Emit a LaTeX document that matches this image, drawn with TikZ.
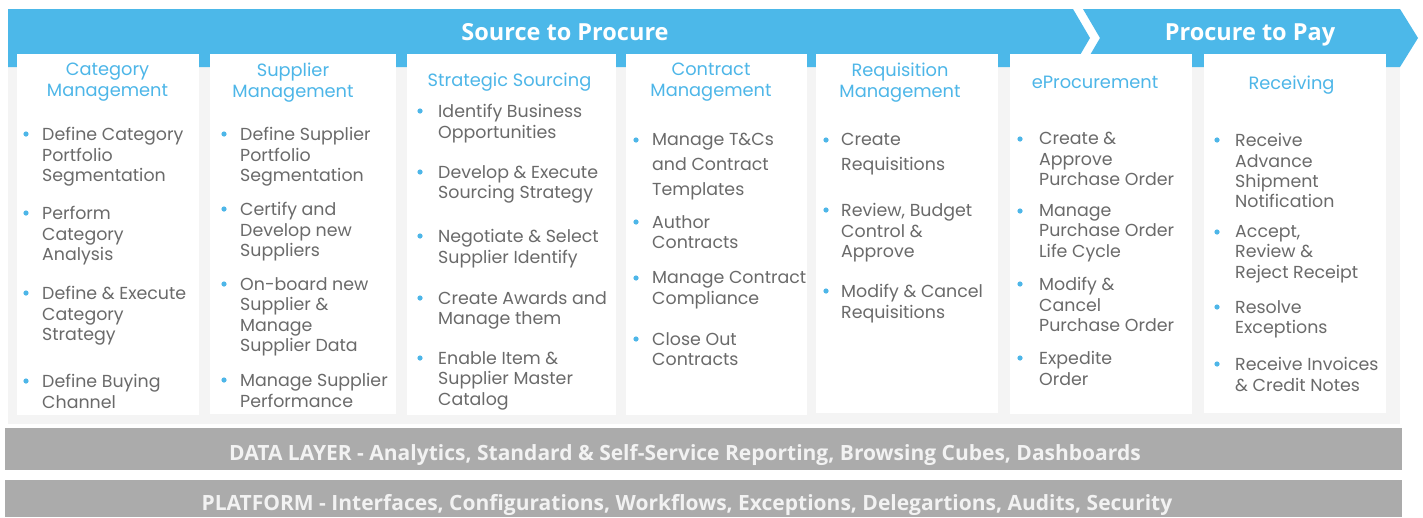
\documentclass[tikz,border=0pt]{standalone}
\usepackage{fontspec}
\setmainfont{Poppins}
\newfontfamily\osfont{Open Sans}
\definecolor{bandblue}{HTML}{4CB8E9}
\definecolor{titleblue}{HTML}{4DB6E8}
\definecolor{bodygray}{HTML}{6A6A6A}
\definecolor{bargray}{HTML}{ABABAB}
\definecolor{bartext}{HTML}{F2F2F2}
\definecolor{shadegray}{HTML}{F4F4F4}
\newcommand\bdyfont{\fontsize{17.4}{20.3}\selectfont}
\newcommand\ttlfont{\fontsize{17.8}{20.5}\selectfont}
\newcommand\bndfont{\osfont\bfseries\fontsize{23.5}{26}\selectfont}
\newcommand\brfont{\osfont\bfseries\fontsize{21}{22}\selectfont}
\newcommand\bitem[5]{%
  \fill[bulletdot] (#2,#4) circle (2.6);
  \node[itemtext] (#1) at (#3,#4-6.6) {#5};}
\begin{document}
\begin{tikzpicture}[x=1pt,y=-1pt,
  bandshape/.style={fill=bandblue, draw=none},
  colbox/.style={fill=white, draw=none},
  coltitle/.style={text=titleblue, font=\ttlfont, align=center, inner sep=0pt, anchor=north},
  itemtext/.style={text=bodygray, font=\bdyfont, align=left, inner sep=0pt, anchor=north west},
  bulletdot/.style={fill=titleblue},
  layerbar/.style={fill=bargray, draw=none},
  layertext/.style={text=bartext, font=\brfont, inner sep=0pt, anchor=base},
  bandtext/.style={text=white, font=\bndfont, inner sep=0pt, anchor=base}]
\useasboundingbox (0,0) rectangle (1423,517);
\fill[white] (0,0) rectangle (1423,517);
% shaded background behind columns
\fill[shadegray] (8,60) rectangle (1400,424);
% banner
\fill[bandshape] (8,9) -- (1073,9) -- (1090,38) -- (1073,67) -- (8,67) -- cycle;
\fill[bandshape] (1083,9) -- (1400,9) -- (1418,38) -- (1400,67) -- (1083,67) -- (1100,38) -- cycle;
\node[bandtext] (s2p) at (565,40) {Source to Procure};
\node[bandtext] (p2p) at (1250,40) {Procure to Pay};
% column boxes
\fill[colbox] (17,54) rectangle (199,415);
\fill[colbox] (210,54) rectangle (396,414);
\fill[colbox] (407,54) rectangle (616,415);
\fill[colbox] (626,54) rectangle (807,415);
\fill[colbox] (816,54) rectangle (998,413);
\fill[colbox] (1010,54) rectangle (1192,414);
\fill[colbox] (1204,54) rectangle (1386,413);
% titles
\node[coltitle] (t1) at (107.5,63) {Category\\Management};
\node[coltitle] (t2) at (293,63) {Supplier\\Management};
\node[coltitle] (t3) at (509.5,73) {Strategic Sourcing};
\node[coltitle] (t4) at (711,63) {Contract\\Management};
\node[coltitle] (t5) at (900,63) {Requisition\\Management};
\node[coltitle] (t6) at (1095,76) {eProcurement};
\node[coltitle] (t7) at (1291.5,76) {Receiving};
% column 1
\bitem{a1}{26}{42}{134}{Define Category\\Portfolio\\Segmentation}
\bitem{a2}{26}{42}{213}{Perform\\Category\\Analysis}
\bitem{a3}{26}{42}{293}{Define \& Execute\\Category\\Strategy}
\bitem{a4}{26}{42}{381}{Define Buying\\Channel}
% column 2
\bitem{b1}{224}{240}{134}{Define Supplier\\Portfolio\\Segmentation}
\bitem{b2}{224}{240}{209}{Certify and\\Develop new\\Suppliers}
\bitem{b3}{224}{240}{284}{On-board new\\Supplier \&\\Manage\\Supplier Data}
\bitem{b4}{224}{240}{380}{Manage Supplier\\Performance}
% column 3
\bitem{c1}{420}{438}{111}{Identify Business\\Opportunities}
\bitem{c2}{420}{438}{172}{Develop \& Execute\\Sourcing Strategy}
\bitem{c3}{420}{438}{236}{Negotiate \& Select\\Supplier Identify}
\bitem{c4}{420}{438}{298}{Create Awards and\\Manage them}
\bitem{c5}{420}{438}{358}{Enable Item \&\\Supplier Master\\Catalog}
% column 4
\bitem{d1}{636}{652}{140}{Manage T\&Cs\\[4.7pt]and Contract\\[4.7pt]Templates}
\bitem{d2}{636}{652}{222}{Author\\Contracts}
\bitem{d3}{636}{652}{278}{Manage Contract\\Compliance}
\bitem{d4}{636}{652}{339}{Close Out\\Contracts}
% column 5
\bitem{e1}{826}{841}{140}{Create\\[4.7pt]Requisitions}
\bitem{e2}{826}{841}{210}{Review, Budget\\Control \&\\Approve}
\bitem{e3}{826}{841}{291}{Modify \& Cancel\\Requisitions}
% column 6
\bitem{f1}{1020}{1039}{139}{Create \&\\Approve\\Purchase Order}
\bitem{f2}{1020}{1039}{211}{Manage\\Purchase Order\\Life Cycle}
\bitem{f3}{1020}{1039}{284}{Modify \&\\Cancel\\Purchase Order}
\bitem{f4}{1020}{1039}{358}{Expedite\\Order}
% column 7
\bitem{g1}{1217}{1235}{140}{Receive\\Advance\\Shipment\\Notification}
\bitem{g2}{1217}{1235}{232}{Accept,\\Review \&\\Reject Receipt}
\bitem{g3}{1217}{1235}{307}{Resolve\\Exceptions}
\bitem{g4}{1217}{1235}{364}{Receive Invoices\\\& Credit Notes}
% bottom layers
\fill[layerbar] (5,428) rectangle (1402,470);
\fill[layerbar] (5,480) rectangle (1402,517);
\node[layertext] (dl) at (685,460) {DATA LAYER - Analytics, Standard \& Self-Service Reporting, Browsing Cubes, Dashboards};
\node[layertext] (pl) at (687,510) {PLATFORM - Interfaces, Configurations, Workflows, Exceptions, Delegartions, Audits, Security};
\end{tikzpicture}
\end{document}
